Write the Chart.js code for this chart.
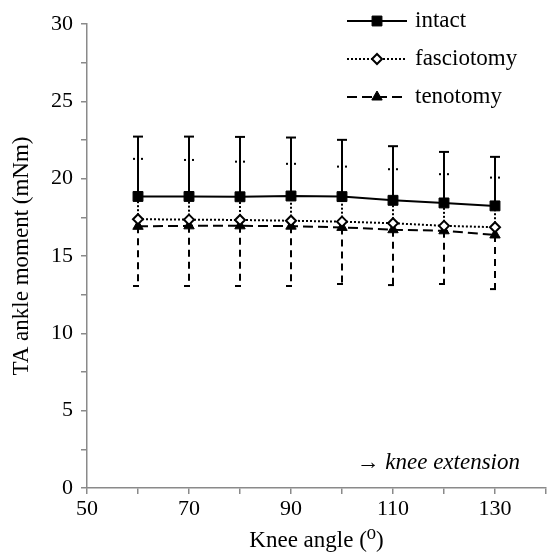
<!DOCTYPE html>
<html>
<head>
<meta charset="utf-8">
<script src="https://cdn.jsdelivr.net/npm/chart.js@4/dist/chart.umd.min.js"></script>
<style>
  html, body { margin: 0; padding: 0; background: #fff; }
  #wrap { width: 554px; height: 559px; }
</style>
</head>
<body>
<div id="wrap"><canvas id="moment_chart" width="554" height="559"></canvas></div>
<script>
// knee angles (deg)
const angles = [60, 70, 80, 90, 100, 110, 120, 130];
// TA ankle moment means (mNm)
const intact = [18.85, 18.85, 18.83, 18.88, 18.84, 18.6, 18.43, 18.24];
const fasciotomy = [17.38, 17.35, 17.33, 17.28, 17.22, 17.12, 16.95, 16.86];
const tenotomy = [16.92, 16.95, 16.95, 16.93, 16.85, 16.7, 16.63, 16.36];
// SD (intact and fasciotomy drawn up, tenotomy drawn down)
const intactSD = [3.87, 3.87, 3.87, 3.78, 3.67, 3.5, 3.3, 3.17];
const fasciotomySD = [3.9, 3.86, 3.77, 3.68, 3.56, 3.49, 3.34, 3.21];
const tenotomySD = [3.86, 3.89, 3.89, 3.87, 3.66, 3.58, 3.44, 3.5];
const seriesNames = ['intact', 'fasciotomy', 'tenotomy'];

const serif = "'Liberation Serif', 'DejaVu Serif', serif";
const axisGray = '#8a8a8a';

function toPoints(vals) {
	return vals.map((v, i) => ({ x: angles[i], y: v }));
}

// error bars: drawn before datasets so markers sit on top
const errorBars = {
	id: 'errorBars',
	beforeDatasetsDraw(chart) {
		const ctx = chart.ctx;
		const xs = chart.scales.x, ys = chart.scales.y;
		const sets = [
			{ mean: intact, sd: intactSD, dir: 1, dash: [], cap: [-5, 5] },
			{ mean: fasciotomy, sd: fasciotomySD, dir: 1, dash: [2, 2], cap: [-5, 5] },
			{ mean: tenotomy, sd: tenotomySD, dir: -1, dash: [7, 5], cap: [-5, 1] }
		];
		ctx.save();
		ctx.strokeStyle = '#000';
		ctx.lineWidth = 2;
		sets.forEach(s => {
			s.mean.forEach((m, i) => {
				const px = xs.getPixelForValue(angles[i]);
				const py0 = ys.getPixelForValue(m);
				const py1 = ys.getPixelForValue(m + s.dir * s.sd[i]);
				ctx.setLineDash(s.dash);
				ctx.beginPath();
				ctx.moveTo(px, py0);
				ctx.lineTo(px, py1);
				ctx.stroke();
				ctx.beginPath();
				ctx.moveTo(px + s.cap[0], py1);
				ctx.lineTo(px + s.cap[1], py1);
				ctx.stroke();
			});
		});
		ctx.restore();
	}
};

// legend (line + marker) and the "knee extension" note
const extras = {
	id: 'extras',
	afterDraw(chart) {
		const ctx = chart.ctx;
		const rows = [21, 59, 97];
		ctx.save();
		chart.data.datasets.forEach((ds, i) => {
			const y = rows[i];
			ctx.strokeStyle = '#000';
			ctx.lineWidth = 2;
			ctx.setLineDash(ds.borderDash || []);
			ctx.beginPath();
			ctx.moveTo(347, y);
			ctx.lineTo(407, y);
			ctx.stroke();
			ctx.setLineDash([]);
			ctx.fillStyle = ds.pointBackgroundColor;
			ctx.lineWidth = ds.pointBorderWidth;
			Chart.helpers.drawPoint(ctx, {
				pointStyle: ds.pointStyle,
				radius: ds.pointRadius,
				borderWidth: ds.pointBorderWidth
			}, 377, y);
			ctx.fillStyle = '#000';
			ctx.font = "23px " + serif;
			ctx.textAlign = 'left';
			ctx.textBaseline = 'middle';
			ctx.fillText(seriesNames[i], 415, y);
		});
		ctx.font = "italic 23px " + serif;
		ctx.textAlign = 'right';
		ctx.fillText('\u2192 knee extension', 520, 463);
		ctx.restore();
	}
};

var context = document.getElementById('moment_chart').getContext('2d');
var moment_chart = new Chart(context, {
	type: 'line',
	data: {
		datasets: [{
			label: seriesNames[0],
			data: toPoints(intact),
			borderColor: '#000',
			borderWidth: 2,
			pointStyle: 'rect',
			pointRadius: 7,
			pointBorderWidth: 1,
			pointBackgroundColor: '#000',
			pointBorderColor: '#000'
		}, {
			label: seriesNames[1],
			data: toPoints(fasciotomy),
			borderColor: '#000',
			borderWidth: 2,
			borderDash: [2, 2],
			pointStyle: 'rectRot',
			pointRadius: 5,
			pointBorderWidth: 2,
			pointBackgroundColor: '#fff',
			pointBorderColor: '#000'
		}, {
			label: seriesNames[2],
			data: toPoints(tenotomy),
			borderColor: '#000',
			borderWidth: 2,
			borderDash: [10, 5],
			pointStyle: 'triangle',
			pointRadius: 6,
			pointBorderWidth: 1,
			pointBackgroundColor: '#000',
			pointBorderColor: '#000'
		}]
	},
	options: {
		responsive: false,
		animation: false,
		devicePixelRatio: 1,
		layout: { padding: { top: 24, right: 5, left: 0, bottom: 0 } },
		plugins: {
			legend: { display: false },
			tooltip: { enabled: false }
		},
		scales: {
			x: {
				type: 'linear',
				min: 50,
				max: 140,
				afterFit: s => { s.height = 71; },
				ticks: {
					stepSize: 10,
					autoSkip: false,
					maxRotation: 0,
					color: '#000',
					padding: 2,
					font: { family: serif, size: 22 },
					callback: v => ((v - 50) % 20 === 0 && v < 140) ? v : ''
				},
				grid: { drawOnChartArea: false, tickLength: 6, color: axisGray, lineWidth: 1.5 },
				border: { color: axisGray, width: 1.5 },
				title: {
					display: true,
					text: 'Knee angle (\u2070)',
					color: '#000',
					font: { family: serif, size: 23 },
					padding: { top: 2, bottom: 4 }
				}
			},
			y: {
				min: 0,
				max: 30,
				afterFit: s => { s.width = 87; },
				ticks: {
					stepSize: 2.5,
					autoSkip: false,
					color: '#000',
					padding: 8,
					font: { family: serif, size: 22 },
					callback: v => (v % 5 === 0) ? v : ''
				},
				grid: { drawOnChartArea: false, tickLength: 6, color: axisGray, lineWidth: 1.5 },
				border: { color: axisGray, width: 1.5 },
				title: {
					display: true,
					text: 'TA ankle moment (mNm)',
					color: '#000',
					font: { family: serif, size: 23 },
					padding: { top: 8, bottom: 4 }
				}
			}
		}
	},
	plugins: [errorBars, extras]
});
</script>
</body>
</html>
